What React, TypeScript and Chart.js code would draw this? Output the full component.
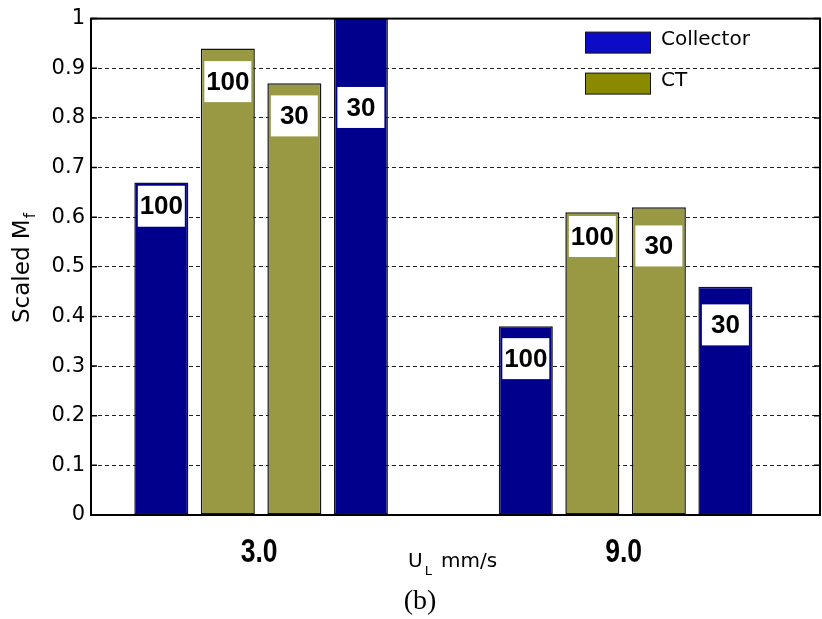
import { useEffect, useRef } from 'react';
import { Chart, registerables } from 'chart.js';

Chart.register(...registerables);

// U_L (mm/s) categories
const categories = ['3.0', '9.0'];
// Scaled M_f values per bar series
const collector100 = [0.67, 0.38];
const ct100 = [0.94, 0.61];
const ct30 = [0.87, 0.62];
const collector30 = [1.0, 0.46];
// tag text per series and the y-level (data units) where each tag sits
const seriesTags = ['100', '100', '30', '30'];
const collector100TagAt = [0.622, 0.315];
const ct100TagAt = [0.873, 0.561];
const ct30TagAt = [0.804, 0.542];
const collector30TagAt = [0.821, 0.383];
const yTicks = [0, 0.1, 0.2, 0.3, 0.4, 0.5, 0.6, 0.7, 0.8, 0.9, 1];
const legendLabels = ['Collector', 'CT'];

const COLLECTOR = '#00008c';
const CT = '#999944';
const LEG_COLLECTOR = '#0c0cc6';
const LEG_CT = '#8a8a00';
const SANS = '"DejaVu Sans", "Liberation Sans", Arial, sans-serif';

const tagLevels = [collector100TagAt, ct100TagAt, ct30TagAt, collector30TagAt];

const toPoints = (vals: number[]) => vals.map((v, i) => ({ x: Number(categories[i]), y: v }));

const overlay = {
  id: 'overlay',
  afterDatasetsDraw(chart: any) {
    const { ctx, chartArea: a, scales } = chart;
    const y = scales.y;
    ctx.save();
    // tags
    chart.data.datasets.forEach((_: any, di: number) => {
      const meta = chart.getDatasetMeta(di);
      meta.data.forEach((bar: any, i: number) => {
        const cx = bar.x;
        const cy = y.getPixelForValue(tagLevels[di][i]);
        ctx.fillStyle = '#fff';
        ctx.fillRect(cx - 23.5, cy - 20.5, 47, 41);
        ctx.fillStyle = '#000';
        ctx.font = 'bold 26px "Liberation Sans", Arial, sans-serif';
        ctx.textAlign = 'center';
        ctx.textBaseline = 'middle';
        ctx.fillText(seriesTags[di], cx, cy + 1);
      });
    });
    // frame
    ctx.strokeStyle = '#000';
    ctx.lineWidth = 2;
    ctx.strokeRect(a.left, a.top, a.right - a.left, a.bottom - a.top);
    // inward y ticks
    ctx.lineWidth = 1.5;
    y.ticks.forEach((t: any) => {
      const py = y.getPixelForValue(t.value);
      ctx.beginPath();
      ctx.moveTo(a.left, py);
      ctx.lineTo(a.left + 6, py);
      ctx.moveTo(a.right, py);
      ctx.lineTo(a.right - 6, py);
      ctx.stroke();
    });
    // legend
    const legColors = [LEG_COLLECTOR, LEG_CT];
    const rows = [a.top + 24, a.top + 65];
    legendLabels.forEach((lab, i) => {
      const ry = rows[i];
      const sx = a.left + 494;
      ctx.fillStyle = legColors[i];
      ctx.fillRect(sx, ry - 10.5, 66, 21);
      ctx.lineWidth = 1;
      ctx.strokeStyle = '#111';
      ctx.strokeRect(sx + 0.5, ry - 10.5, 65, 21);
      ctx.fillStyle = '#000';
      ctx.font = `20px ${SANS}`;
      ctx.textAlign = 'left';
      ctx.textBaseline = 'middle';
      ctx.fillText(lab, sx + 76, ry - 3);
    });
    ctx.restore();
  },
  afterDraw(chart: any) {
    const { ctx, chartArea: a, scales } = chart;
    ctx.save();
    ctx.fillStyle = '#000';
    // x category labels (condensed bold)
    const xs = scales.x;
    ctx.font = 'bold 34px "Liberation Sans", Arial, sans-serif';
    ctx.textAlign = 'center';
    ctx.textBaseline = 'alphabetic';
    xs.ticks.forEach((t: any) => {
      const px = xs.getPixelForValue(t.value);
      const lab = categories.find((c) => Number(c) === t.value) ?? '';
      ctx.save();
      ctx.translate(px - 2, a.bottom + 47);
      ctx.scale(0.78, 1);
      ctx.fillText(lab, 0, 0);
      ctx.restore();
    });
    // y title with subscript
    ctx.translate(29, 323);
    ctx.rotate(-Math.PI / 2);
    ctx.font = `23px ${SANS}`;
    ctx.textAlign = 'left';
    ctx.fillText('Scaled M', 0, 0);
    const w = ctx.measureText('Scaled M').width;
    ctx.font = `15px ${SANS}`;
    ctx.fillText('f', w + 1, 6);
    ctx.setTransform(1, 0, 0, 1, 0, 0);
    // x title with subscript
    ctx.font = `20px ${SANS}`;
    ctx.fillText('U', 408, 567);
    const uw = ctx.measureText('U').width;
    ctx.font = `13px ${SANS}`;
    ctx.fillText('L', 408 + uw + 2, 575);
    ctx.font = `20px ${SANS}`;
    ctx.fillText('mm/s', 441, 567);
    // panel label
    ctx.font = '28px "Liberation Serif", "Times New Roman", serif';
    ctx.textAlign = 'center';
    ctx.fillText('(b)', 420, 609);
    ctx.restore();
  },
};

export default function App() {
  const ref = useRef<HTMLCanvasElement>(null);
  useEffect(() => {
    if (!ref.current) return;
    const barBase = { borderWidth: 1.5, borderColor: '#141414', borderSkipped: false as any, barPercentage: 0.812, categoryPercentage: 0.73 };
    const chart = new Chart(ref.current, {
      type: 'bar',
      data: {
        labels: categories,
        datasets: [
          { label: 'Collector 100', data: toPoints(collector100), backgroundColor: COLLECTOR, ...barBase },
          { label: 'CT 100', data: toPoints(ct100), backgroundColor: CT, ...barBase },
          { label: 'CT 30', data: toPoints(ct30), backgroundColor: CT, ...barBase },
          { label: 'Collector 30', data: toPoints(collector30), backgroundColor: COLLECTOR, ...barBase },
        ] as any,
      },
      options: {
        animation: false,
        responsive: false,
        devicePixelRatio: 1,
        events: [],
        layout: { padding: { top: 17, right: 2, left: 0, bottom: 0 } },
        plugins: { legend: { display: false }, tooltip: { enabled: false } },
        scales: {
          x: {
            type: 'linear',
            offset: false,
            min: 0.2,
            max: 12.2,
            afterBuildTicks: (s: any) => { s.ticks = categories.map((c) => ({ value: Number(c) })); },
            afterFit: (s: any) => { s.height = 104; },
            ticks: { display: false },
            grid: { display: false, drawTicks: false, offset: false },
            border: { display: false },
          },
          y: {
            min: 0,
            max: 1,
            afterBuildTicks: (s: any) => { s.ticks = yTicks.map((v) => ({ value: v })); },
            afterFit: (s: any) => { s.width = 91; },
            ticks: {
              callback: (v: any) => String(v),
              font: { family: SANS, size: 21 },
              color: '#000',
              padding: 6,
            },
            grid: {
              color: (c: any) => (c.tick && (c.tick.value === 0 || c.tick.value === 1) ? 'rgba(0,0,0,0)' : '#222'),
              lineWidth: 1,
              drawTicks: false,
            },
            border: { display: false, dash: [4, 3] },
          },
        },
      } as any,
      plugins: [overlay],
    });
    return () => chart.destroy();
  }, []);
  return (
    <div style={{ position: 'fixed', left: 0, top: 0, width: 822, height: 619, background: '#fff' }}>
      <canvas ref={ref} width={822} height={619} />
    </div>
  );
}
